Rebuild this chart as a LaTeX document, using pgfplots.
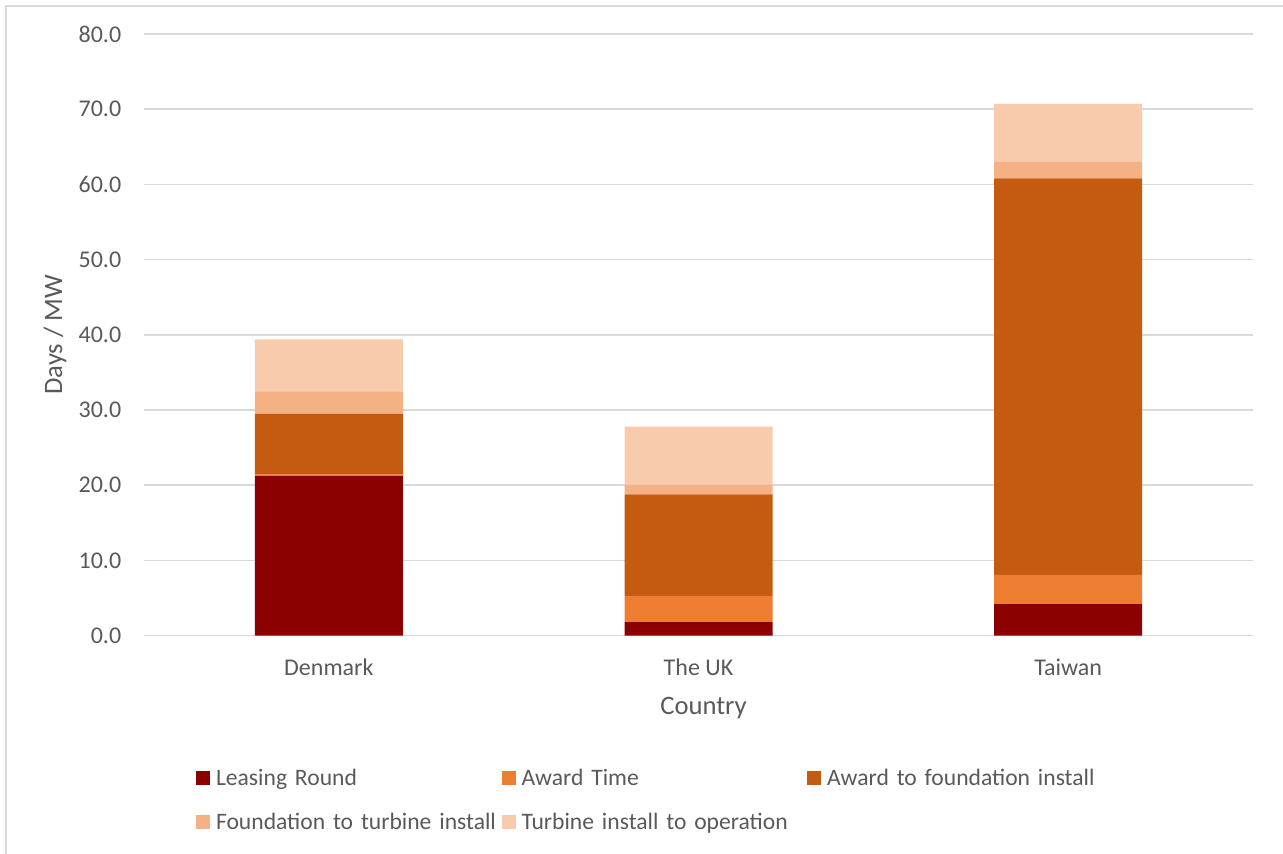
\documentclass[border=0pt]{standalone}
\usepackage{pgfplots}
\pgfplotsset{compat=1.18}
\usepackage{fontspec}
\setmainfont{Carlito}
\definecolor{cLease}{HTML}{8B0000}
\definecolor{cAward}{HTML}{ED7D31}
\definecolor{cFound}{HTML}{C55A11}
\definecolor{cTurb}{HTML}{F4B183}
\definecolor{cOper}{HTML}{F8CBAD}
\definecolor{textgray}{HTML}{595959}
\definecolor{gridgray}{HTML}{D9D9D9}
\begin{document}
\begin{tikzpicture}
\path[use as bounding box] (0pt,0pt) rectangle (641.5pt,427pt);
\draw[gridgray, line width=0.8pt] (3pt,0pt) -- (3pt,424pt) -- (641.5pt,424pt);
\begin{axis}[
  at={(72pt,109.15pt)}, anchor=south west,
  scale only axis, width=554.5pt, height=300.85pt,
  ybar stacked, bar width=74pt,
  xmin=-0.5, xmax=2.5, ymin=0, ymax=80,
  xtick=data, xticklabels={Denmark, The UK, Taiwan},
  ytick={0,10,...,80},
  axis line style={draw=none},
  major tick length=0pt,
  ymajorgrids, grid style={gridgray, line width=0.8pt},
  /pgf/number format/.cd, fixed, fixed zerofill, precision=1, assume math mode=true,
  /pgfplots/.cd,
  every tick label/.append style={font=\fontsize{12}{14}\selectfont, text=textgray},
  yticklabel style={anchor=east, inner xsep=0pt, xshift=-11.2pt},
  xticklabel style={anchor=base, yshift=-19.8pt},
  xlabel={Country}, ylabel={Days / MW},
  label style={font=\fontsize{13.3}{15}\selectfont, text=textgray},
  xlabel style={at={(axis description cs:0.5,-0.1318)}, anchor=base, xshift=2.5pt},
  ylabel style={at={(axis description cs:-0.0739,0.5)}, anchor=base, rotate=0},
  ybar legend/.style={},
  legend columns=3,
  legend cell align=left,
  legend style={at={(axis description cs:0.0469,-0.2199)}, anchor=north west,
    draw=none, fill=none, inner sep=0pt, outer sep=0pt,
    /tikz/column sep=0pt, /tikz/row sep=11.15pt,
    font=\fontsize{11.8}{14}\selectfont, text=textgray,
    cells={anchor=base west},
    nodes={inner sep=0pt, text height=8.5pt, text depth=2.5pt, text width=145.75pt, align=left,
      execute at begin node={\hspace*{3pt}}}},
]
\addplot[fill=cLease, draw=none, legend image code/.code={\fill[cLease] (0pt,0.1pt) rectangle (7pt,7pt);}] coordinates {(0,21.2) (1,1.8) (2,4.2)};
\addplot[fill=cAward, draw=none, legend image code/.code={\fill[cAward] (0pt,0.1pt) rectangle (7pt,7pt);}] coordinates {(0,0.2) (1,3.5) (2,3.9)};
\addplot[fill=cFound, draw=none, legend image code/.code={\fill[cFound] (0pt,0.1pt) rectangle (7pt,7pt);}] coordinates {(0,8.1) (1,13.5) (2,52.7)};
\addplot[fill=cTurb, draw=none, legend image code/.code={\fill[cTurb] (0pt,0.1pt) rectangle (7pt,7pt);}] coordinates {(0,3.0) (1,1.3) (2,2.2)};
\addplot[fill=cOper, draw=none, legend image code/.code={\fill[cOper] (0pt,0.1pt) rectangle (7pt,7pt);}] coordinates {(0,6.9) (1,7.7) (2,7.7)};
\legend{Leasing Round, Award Time, Award to foundation install, Foundation to turbine install, Turbine install to operation}
\end{axis}
\end{tikzpicture}
\end{document}
